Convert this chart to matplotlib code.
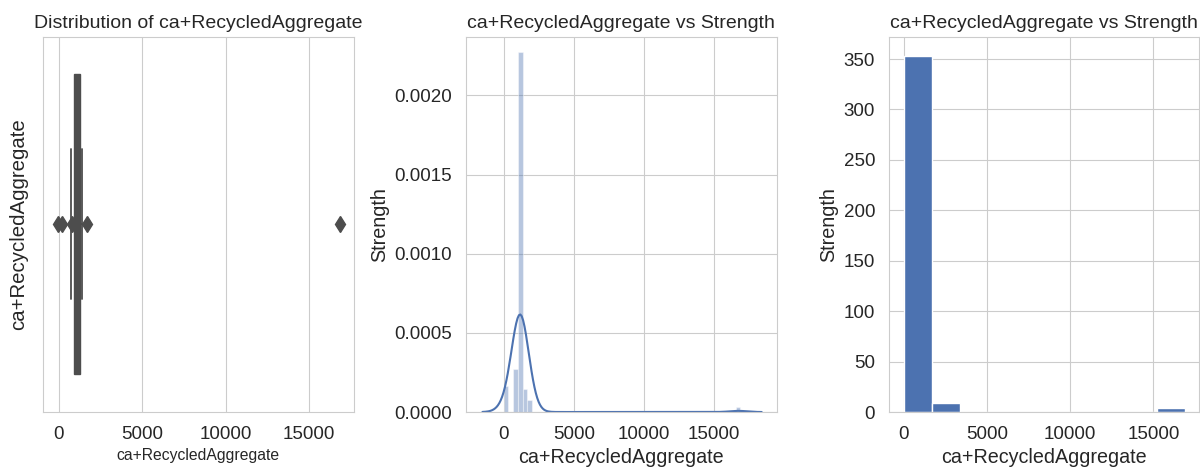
import numpy as np
import matplotlib
matplotlib.use('Agg')
import matplotlib.pyplot as plt
import seaborn as sns

sns.set_style('whitegrid')
plt.rcParams['font.family'] = ['Liberation Sans', 'DejaVu Sans']

col = 'ca+RecycledAggregate'
target = 'Strength'

# boxplot summary
box_stats = {'med': 1100, 'q1': 930, 'q3': 1250, 'whislo': 720, 'whishi': 1400}
box_fliers = [-40, 200, 760, 1660, 16850]

# fine histogram (50 bins between min and max), counts per bin
data_min, data_max = 0, 16900
fine_counts = [20, 0, 34, 281, 18, 9] + [0] * 43 + [4]
# coarse histogram (10 bins) of the same column
coarse_counts = [353, 9, 0, 0, 0, 0, 0, 0, 0, 4]

blue = '#4c72b0'
grey = '#4d4d4d'
txt = '#262626'

fig = plt.figure(figsize=(12, 4.69), dpi=100)
ax1 = fig.add_axes([0.0358, 0.1215, 0.259, 0.80])
ax2 = fig.add_axes([0.3883, 0.1215, 0.259, 0.80])
ax3 = fig.add_axes([0.7408, 0.1215, 0.2584, 0.80])

# --- left: boxplot ---
stats = dict(box_stats, fliers=box_fliers)
ax1.bxp([stats], positions=[0], widths=0.8, vert=False, patch_artist=True,
        boxprops=dict(facecolor=grey, edgecolor=grey, linewidth=1),
        medianprops=dict(color=grey, linewidth=1),
        whiskerprops=dict(color=grey, linewidth=1.3),
        capprops=dict(color=grey, linewidth=1.3),
        flierprops=dict(marker='d', markerfacecolor=grey, markeredgecolor=grey,
                        markersize=8))
ax1.set_ylim(0.5, -0.5)
ax1.set_yticks([])
ax1.set_xlim(-960, 17700)
ax1.set_xticks([0, 5000, 10000, 15000])
ax1.set_title('Distribution of ' + col, fontsize=14, color=txt)
ax1.set_xlabel(col, fontsize=11.3, color=txt)
ax1.set_ylabel(col, fontsize=14.7, color=txt, labelpad=11)

# --- middle: density histogram + kde ---
edges = np.linspace(data_min, data_max, len(fine_counts) + 1)
widths = np.diff(edges)
n_total = sum(fine_counts)
density = np.array(fine_counts) / (n_total * widths)
ax2.bar(edges[:-1], density, width=widths, align='edge', color=blue, alpha=0.4,
        edgecolor='white', linewidth=0.8)
centers = (edges[:-1] + edges[1:]) / 2
sns.kdeplot(x=centers, weights=fine_counts, bw_adjust=0.25, ax=ax2, color=blue,
            linewidth=1.5)
ax2.set_xlim(-2700, 19500)
ax2.set_ylim(0, 0.00237)
ax2.set_xticks([0, 5000, 10000, 15000])
ax2.set_yticks([0, 0.0005, 0.001, 0.0015, 0.002])
ax2.set_yticklabels(['0.0000', '0.0005', '0.0010', '0.0015', '0.0020'])
ax2.set_title(col + ' vs ' + target, fontsize=14, color=txt)
ax2.set_xlabel(col, fontsize=14.2, color=txt)
ax2.set_ylabel(target, fontsize=14.2, color=txt)

# --- right: plain histogram ---
cedges = np.linspace(data_min, data_max, len(coarse_counts) + 1)
ax3.bar(cedges[:-1], coarse_counts, width=np.diff(cedges), align='edge',
        color=blue, edgecolor='white', linewidth=1)
ax3.set_xlim(-900, 17745)
ax3.set_ylim(0, 372)
ax3.set_xticks([0, 5000, 10000, 15000])
ax3.set_yticks([0, 50, 100, 150, 200, 250, 300, 350])
ax3.set_title(col + ' vs ' + target, fontsize=14, color=txt)
ax3.set_xlabel(col, fontsize=14.2, color=txt)
ax3.set_ylabel(target, fontsize=14.2, color=txt)

for ax in (ax1, ax2, ax3):
    ax.tick_params(labelsize=13.5, colors=txt, length=0, pad=10)
    ax.set_axisbelow(True)
    for s in ax.spines.values():
        s.set_color('#cccccc')

fig.savefig('out.png', dpi=100, facecolor='white')
